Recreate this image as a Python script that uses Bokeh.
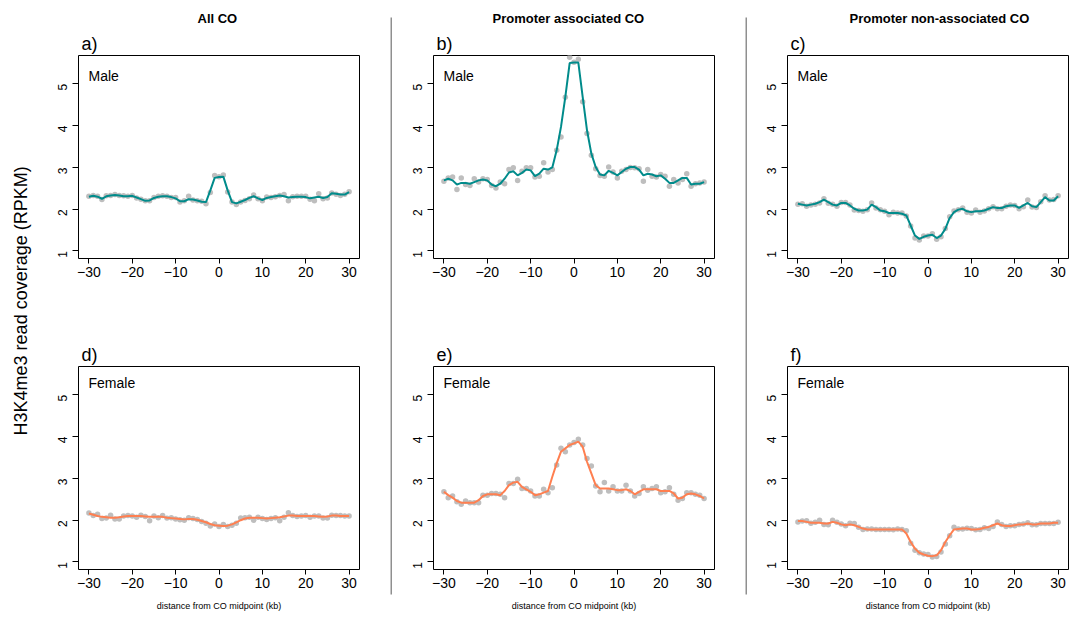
import math
from bokeh.plotting import figure
from bokeh.models import Label, FixedTicker, Range1d, Title
from bokeh.layouts import row, column
from bokeh.embed import file_html
from bokeh.resources import INLINE

# ---------------- data ----------------
distance_kb = list(range(-30, 31))

male_all_points = [2.31, 2.33, 2.31, 2.23, 2.32, 2.33, 2.35, 2.33, 2.32, 2.31,
                   2.33, 2.27, 2.24, 2.20, 2.20, 2.28, 2.31, 2.32, 2.31, 2.28,
                   2.28, 2.17, 2.20, 2.31, 2.22, 2.20, 2.19, 2.13, 2.40, 2.81,
                   2.78, 2.82, 2.41, 2.17, 2.11, 2.17, 2.21, 2.25, 2.34, 2.25,
                   2.20, 2.29, 2.28, 2.30, 2.33, 2.35, 2.20, 2.30, 2.31, 2.31,
                   2.31, 2.24, 2.20, 2.37, 2.25, 2.27, 2.39, 2.36, 2.33, 2.36, 2.42]
male_all_smooth = [2.30, 2.32, 2.30, 2.25, 2.31, 2.33, 2.34, 2.33, 2.31, 2.31,
                   2.32, 2.28, 2.24, 2.20, 2.21, 2.27, 2.30, 2.31, 2.31, 2.29,
                   2.26, 2.19, 2.19, 2.24, 2.23, 2.21, 2.18, 2.17, 2.45, 2.75,
                   2.77, 2.78, 2.45, 2.17, 2.14, 2.18, 2.22, 2.27, 2.31, 2.26,
                   2.22, 2.27, 2.29, 2.31, 2.33, 2.31, 2.28, 2.29, 2.30, 2.30,
                   2.29, 2.26, 2.28, 2.30, 2.27, 2.29, 2.38, 2.37, 2.35, 2.35, 2.41]

male_prom_points = [2.67, 2.75, 2.77, 2.47, 2.75, 2.59, 2.57, 2.73, 2.65, 2.73,
                    2.71, 2.57, 2.51, 2.65, 2.61, 2.95, 2.99, 2.69, 2.91, 2.99,
                    2.99, 2.77, 2.79, 3.11, 2.89, 2.95, 3.41, 3.73, 4.68, 5.64,
                    5.52, 5.59, 4.57, 3.81, 3.29, 2.97, 2.81, 2.79, 3.01, 2.89,
                    2.75, 2.91, 2.95, 3.00, 2.99, 2.97, 2.67, 2.95, 2.79, 2.77,
                    2.83, 2.79, 2.55, 2.71, 2.63, 2.71, 2.85, 2.55, 2.61, 2.63, 2.65]
male_prom_smooth = [2.69, 2.73, 2.69, 2.59, 2.63, 2.63, 2.61, 2.65, 2.69, 2.71,
                    2.69, 2.59, 2.55, 2.61, 2.73, 2.88, 2.91, 2.81, 2.87, 2.95,
                    2.93, 2.79, 2.85, 2.97, 2.95, 3.00, 3.41, 3.97, 4.69, 5.50,
                    5.51, 5.51, 4.69, 3.89, 3.33, 3.01, 2.83, 2.81, 2.92, 2.87,
                    2.81, 2.89, 2.97, 3.01, 3.01, 2.95, 2.81, 2.85, 2.83, 2.79,
                    2.81, 2.73, 2.63, 2.63, 2.69, 2.75, 2.75, 2.59, 2.61, 2.61, 2.65]

male_nonprom_points = [2.12, 2.13, 2.07, 2.10, 2.12, 2.15, 2.25, 2.14, 2.12, 2.07,
                       2.16, 2.16, 2.10, 1.98, 1.97, 1.95, 1.99, 2.15, 2.03, 1.99,
                       1.95, 1.87, 1.93, 1.91, 1.91, 1.84, 1.60, 1.31, 1.26, 1.36,
                       1.36, 1.41, 1.28, 1.34, 1.54, 1.82, 1.96, 1.99, 2.03, 1.93,
                       1.91, 1.98, 1.93, 1.96, 2.01, 2.06, 2.01, 2.01, 2.07, 2.10,
                       2.09, 2.01, 2.06, 2.22, 2.05, 2.04, 2.18, 2.32, 2.22, 2.23, 2.32]
male_nonprom_smooth = [2.13, 2.11, 2.09, 2.11, 2.13, 2.17, 2.23, 2.17, 2.11, 2.09,
                       2.15, 2.15, 2.09, 2.01, 1.97, 1.97, 1.99, 2.11, 2.05, 1.97,
                       1.95, 1.91, 1.91, 1.91, 1.89, 1.85, 1.61, 1.37, 1.29, 1.34,
                       1.37, 1.39, 1.31, 1.37, 1.53, 1.79, 1.93, 1.99, 2.01, 1.95,
                       1.93, 1.95, 1.95, 1.97, 2.01, 2.05, 2.03, 2.03, 2.07, 2.09,
                       2.09, 2.03, 2.09, 2.15, 2.07, 2.05, 2.17, 2.29, 2.21, 2.21, 2.31]

female_all_points = [2.17, 2.11, 2.14, 2.04, 2.05, 2.12, 2.03, 2.03, 2.10, 2.11,
                     2.10, 2.07, 2.12, 2.09, 1.99, 2.10, 2.06, 2.11, 2.05, 2.06,
                     2.03, 2.01, 2.00, 2.06, 2.04, 2.02, 1.97, 1.93, 1.86, 1.91,
                     1.85, 1.90, 1.85, 1.88, 1.93, 2.05, 2.06, 2.07, 2.00, 2.07,
                     2.04, 2.02, 2.04, 2.06, 1.99, 2.07, 2.18, 2.11, 2.09, 2.10,
                     2.11, 2.07, 2.10, 2.10, 2.05, 2.05, 2.12, 2.11, 2.11, 2.10, 2.10]
female_all_smooth = [2.16, 2.13, 2.10, 2.08, 2.07, 2.06, 2.06, 2.07, 2.09, 2.10,
                     2.10, 2.10, 2.10, 2.09, 2.08, 2.08, 2.08, 2.08, 2.06, 2.05,
                     2.04, 2.03, 2.02, 2.03, 2.03, 2.01, 1.98, 1.95, 1.91, 1.88,
                     1.87, 1.86, 1.87, 1.90, 1.95, 2.00, 2.04, 2.06, 2.06, 2.06,
                     2.05, 2.04, 2.05, 2.06, 2.07, 2.09, 2.11, 2.11, 2.10, 2.10,
                     2.10, 2.10, 2.10, 2.09, 2.08, 2.09, 2.11, 2.11, 2.10, 2.10, 2.10]

female_prom_points = [2.68, 2.54, 2.58, 2.44, 2.38, 2.46, 2.42, 2.42, 2.42, 2.60,
                      2.60, 2.64, 2.64, 2.62, 2.54, 2.88, 2.88, 2.98, 2.76, 2.76,
                      2.70, 2.58, 2.58, 2.74, 2.66, 2.78, 3.32, 3.72, 3.64, 3.80,
                      3.86, 3.94, 3.80, 3.48, 3.30, 2.82, 2.68, 2.90, 2.70, 2.80,
                      2.70, 2.70, 2.84, 2.70, 2.58, 2.64, 2.80, 2.72, 2.76, 2.80,
                      2.66, 2.68, 2.78, 2.62, 2.48, 2.52, 2.66, 2.66, 2.62, 2.60, 2.52]
female_prom_smooth = [2.68, 2.60, 2.54, 2.46, 2.42, 2.42, 2.42, 2.42, 2.48, 2.58,
                      2.62, 2.62, 2.62, 2.60, 2.70, 2.84, 2.90, 2.92, 2.80, 2.74,
                      2.68, 2.60, 2.62, 2.66, 2.70, 3.04, 3.36, 3.64, 3.72, 3.80,
                      3.84, 3.88, 3.76, 3.40, 3.12, 2.84, 2.76, 2.76, 2.76, 2.74,
                      2.72, 2.72, 2.74, 2.70, 2.62, 2.68, 2.74, 2.74, 2.74, 2.74,
                      2.70, 2.70, 2.70, 2.64, 2.52, 2.54, 2.62, 2.64, 2.62, 2.58, 2.52]

female_nonprom_points = [1.96, 1.98, 1.99, 1.93, 1.95, 2.00, 1.90, 1.89, 2.00, 1.95,
                         1.91, 1.87, 1.93, 1.92, 1.83, 1.78, 1.79, 1.79, 1.78, 1.78,
                         1.78, 1.78, 1.77, 1.79, 1.78, 1.75, 1.45, 1.28, 1.22, 1.19,
                         1.18, 1.12, 1.13, 1.24, 1.43, 1.63, 1.83, 1.79, 1.79, 1.81,
                         1.80, 1.77, 1.78, 1.82, 1.80, 1.85, 1.96, 1.90, 1.85, 1.87,
                         1.87, 1.90, 1.91, 1.94, 1.89, 1.89, 1.92, 1.92, 1.92, 1.92, 1.95]
female_nonprom_smooth = [1.98, 1.98, 1.96, 1.94, 1.94, 1.94, 1.92, 1.92, 1.96, 1.94,
                         1.90, 1.88, 1.90, 1.88, 1.84, 1.80, 1.78, 1.78, 1.78, 1.78,
                         1.78, 1.78, 1.78, 1.78, 1.78, 1.68, 1.48, 1.32, 1.22, 1.18,
                         1.15, 1.14, 1.16, 1.28, 1.48, 1.64, 1.78, 1.79, 1.80, 1.80,
                         1.78, 1.78, 1.79, 1.82, 1.84, 1.88, 1.92, 1.88, 1.86, 1.86,
                         1.88, 1.90, 1.90, 1.92, 1.90, 1.90, 1.92, 1.92, 1.92, 1.94, 1.94]

x_ticks = [-30, -20, -10, 0, 10, 20, 30]
y_ticks = [1, 2, 3, 4, 5]
column_titles = ["All CO", "Promoter associated  CO", "Promoter non-associated  CO"]
panel_letters = ["a)", "b)", "c)", "d)", "e)", "f)"]
sex_labels = ["Male", "Female"]
y_title = "H3K4me3 read coverage (RPKM)"
x_title = "distance from CO midpoint (kb)"

MALE_COLOR = "#008B8B"
FEMALE_COLOR = "#FF7F50"
POINT_COLOR = "#BEBEBE"
FONT = "Liberation Sans"

X0, X1 = -32.4, 32.4
Y0, Y1 = 0.82, 5.68
FRAME_W = 281
FRAME_H = 203


def style_title(t, size, bold):
    t.text_font = FONT
    t.text_font_size = size
    t.text_font_style = "bold" if bold else "normal"
    t.text_color = "black"


def make_panel(pts, smooth, color, letter, sex, bottom, bl, br, title=None, title_off=0):
    top_b = 56 if bottom else 55
    bot_b = 50 if bottom else 52
    p = figure(width=bl + FRAME_W + br, height=top_b + FRAME_H + bot_b,
               output_backend="svg", toolbar_location=None,
               x_range=Range1d(X0, X1), y_range=Range1d(Y0, Y1),
               min_border_left=bl, min_border_right=br,
               min_border_top=top_b, min_border_bottom=bot_b,
               title=(title if title is not None else letter))
    if title is not None:
        # outer title: column heading
        p.title.align = "left"
        p.title.offset = title_off
        p.title.standoff = 7
        style_title(p.title, "13px", True)
        # inner title: panel letter
        lt = Title(text=letter, align="left", offset=3, standoff=4)
        style_title(lt, "18px", False)
        p.add_layout(lt, "above")
    else:
        p.title.align = "left"
        p.title.offset = 3
        p.title.standoff = 4
        style_title(p.title, "18px", False)

    p.xgrid.visible = False
    p.ygrid.visible = False
    p.outline_line_color = "black"
    p.outline_line_width = 1
    p.outline_line_alpha = 1
    p.background_fill_color = "white"
    p.border_fill_color = "white"

    p.scatter(distance_kb, pts, size=5.5, fill_color=POINT_COLOR, line_color=None)
    p.line(distance_kb, smooth, line_color=color, line_width=2)

    xa = p.xaxis[0]
    xa.ticker = FixedTicker(ticks=x_ticks, minor_ticks=[])
    xa.major_label_overrides = {t: (("\u2212" + str(-t)) if t < 0 else str(t)) for t in x_ticks}
    xa.axis_line_color = None
    xa.major_tick_out = 5
    xa.major_tick_in = 0
    xa.major_tick_line_color = "black"
    xa.minor_tick_line_color = None
    xa.major_label_text_font = FONT
    xa.major_label_text_font_size = "14px"
    xa.major_label_text_color = "black"
    xa.major_label_standoff = 3
    if bottom:
        xa.axis_label = x_title
        xa.axis_label_text_font = FONT
        xa.axis_label_text_font_size = "9px"
        xa.axis_label_text_font_style = "normal"
        xa.axis_label_text_color = "black"
        xa.axis_label_standoff = 10

    ya = p.yaxis[0]
    ya.ticker = FixedTicker(ticks=y_ticks, minor_ticks=[])
    ya.axis_line_color = None
    ya.major_tick_out = 6
    ya.major_tick_in = 0
    ya.major_tick_line_color = "black"
    ya.minor_tick_line_color = None
    ya.major_label_text_font = FONT
    ya.major_label_text_font_size = "12px"
    ya.major_label_text_color = "black"
    ya.major_label_orientation = math.pi / 2
    ya.major_label_standoff = 10

    p.add_layout(Label(x=X0, y=Y1, x_offset=10, y_offset=-16 if bottom else -20,
                       text=sex, text_font=FONT, text_font_size="14px",
                       text_align="left", text_baseline="middle", text_color="black"))
    return p


def make_separator(bottom_gap):
    s = figure(width=2, height=619, output_backend="svg", toolbar_location=None,
               x_axis_type=None, y_axis_type=None,
               x_range=Range1d(0, 1), y_range=Range1d(0, 1),
               min_border_left=0, min_border_right=0,
               min_border_top=17, min_border_bottom=bottom_gap)
    s.outline_line_color = None
    s.background_fill_color = "#8f8f8f"
    s.border_fill_color = "white"
    s.xgrid.visible = False
    s.ygrid.visible = False
    return s


# y-axis title strip
ylab = figure(width=40, height=619, output_backend="svg", toolbar_location=None,
              x_axis_type=None, y_axis_type=None,
              x_range=Range1d(0, 40), y_range=Range1d(0, 619),
              min_border=0, min_border_left=0, min_border_right=0,
              min_border_top=0, min_border_bottom=0)
ylab.outline_line_color = None
ylab.xgrid.visible = False
ylab.ygrid.visible = False
ylab.add_layout(Label(x=20, y=619 - 304, text=y_title, angle=math.pi / 2,
                      text_font=FONT, text_font_size="18px", text_align="center",
                      text_baseline="middle", text_color="black"))

pa = make_panel(male_all_points, male_all_smooth, MALE_COLOR, panel_letters[0], sex_labels[0],
                False, 38, 31, column_titles[0], 119)
pd = make_panel(female_all_points, female_all_smooth, FEMALE_COLOR, panel_letters[3], sex_labels[1],
                True, 38, 31)
pb = make_panel(male_prom_points, male_prom_smooth, MALE_COLOR, panel_letters[1], sex_labels[0],
                False, 41, 31, column_titles[1], 59)
pe = make_panel(female_prom_points, female_prom_smooth, FEMALE_COLOR, panel_letters[4], sex_labels[1],
                True, 41, 31)
pc = make_panel(male_nonprom_points, male_nonprom_smooth, MALE_COLOR, panel_letters[2], sex_labels[0],
                False, 40, 2, column_titles[2], 62)
pf = make_panel(female_nonprom_points, female_nonprom_smooth, FEMALE_COLOR, panel_letters[5], sex_labels[1],
                True, 40, 2)

sep1 = make_separator(25)
sep2 = make_separator(24)

layout = row(ylab, column(pa, pd), sep1, column(pb, pe), sep2, column(pc, pf))

with open("out.html", "w") as f:
    f.write(file_html(layout, INLINE))
